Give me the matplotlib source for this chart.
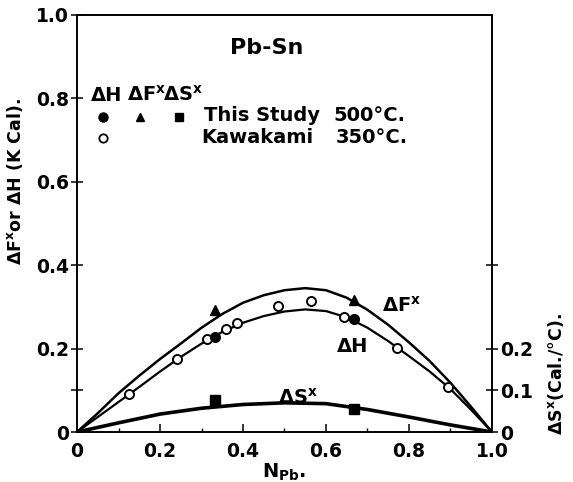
import numpy as np
import matplotlib
matplotlib.use("Agg")
import matplotlib.pyplot as plt

plt.rcParams['font.family'] = 'DejaVu Sans'
plt.rcParams['font.weight'] = 'bold'
plt.rcParams['axes.labelweight'] = 'bold'
plt.rcParams['mathtext.default'] = 'regular'

# smooth curves
x_curve = [0, 0.05, 0.1, 0.15, 0.2, 0.25, 0.3, 0.35, 0.4, 0.45, 0.5,
           0.55, 0.6, 0.65, 0.7, 0.75, 0.8, 0.85, 0.9, 0.95, 1.0]
dF_curve = [0, 0.045, 0.093, 0.135, 0.175, 0.212, 0.25, 0.283, 0.31, 0.328, 0.34,
            0.345, 0.34, 0.322, 0.293, 0.257, 0.215, 0.17, 0.118, 0.06, 0]
dH_curve = [0, 0.036, 0.072, 0.108, 0.145, 0.18, 0.212, 0.24, 0.262, 0.278, 0.289,
            0.294, 0.29, 0.275, 0.25, 0.218, 0.182, 0.145, 0.103, 0.053, 0]
x_dS = [0, 0.1, 0.2, 0.3, 0.4, 0.5, 0.6, 0.7, 0.8, 0.9, 1.0]
dS_curve = [0, 0.022, 0.043, 0.057, 0.066, 0.07, 0.068, 0.054, 0.036, 0.017, 0]

# this study, 500 C
x_study = [0.333, 0.667]
dH_study = [0.229, 0.272]
dF_study = [0.293, 0.317]
dS_study = [0.077, 0.055]

# Kawakami, 350 C
x_kaw = [0.126, 0.240, 0.314, 0.359, 0.385, 0.484, 0.565, 0.643, 0.770, 0.894]
dH_kaw = [0.091, 0.175, 0.222, 0.246, 0.262, 0.302, 0.314, 0.277, 0.202, 0.109]

fig = plt.figure(figsize=(5.73, 4.82), dpi=100)
ax = fig.add_axes([0.1344, 0.1037, 0.7242, 0.8652])

ax.plot(x_curve, dF_curve, color='k', lw=1.8, zorder=2)
ax.plot(x_curve, dH_curve, color='k', lw=1.6, zorder=2)
ax.plot(x_dS, dS_curve, color='k', lw=2.6, zorder=2)

ax.plot(x_kaw, dH_kaw, 'o', ms=6.5, mfc='white', mec='k', mew=1.4, zorder=4)
ax.plot(x_study, dH_study, 'o', ms=7, color='k', zorder=5)
ax.plot(x_study, dF_study, '^', ms=6.5, color='k', zorder=5)
ax.plot(x_study, dS_study, 's', ms=7.5, color='k', zorder=5)

ax.set_xlim(0, 1.0)
ax.set_ylim(0, 1.0)
for s in ax.spines.values():
    s.set_linewidth(1.2)

ax.set_xticks([0, 0.2, 0.4, 0.6, 0.8, 1.0])
ax.set_xticklabels(['0', '0.2', '0.4', '0.6', '0.8', '1.0'])
ax.set_xticks([0.1, 0.3, 0.5, 0.7, 0.9], minor=True)
ax.set_yticks([0, 0.2, 0.4, 0.6, 0.8, 1.0])
ax.set_yticklabels(['0', '0.2', '0.4', '0.6', '0.8', '1.0'])
ax.set_yticks([0.1], minor=True)
ax.tick_params(axis='x', direction='in', length=6, width=1.1, labelsize=13.5, pad=7)
ax.tick_params(axis='x', which='minor', direction='in', length=3, width=1.0)
ax.tick_params(axis='y', direction='inout', length=8, width=1.1, labelsize=13.5, pad=2)
ax.tick_params(axis='y', which='minor', direction='inout', length=8, width=1.1)

ax.set_xlabel('N$_{Pb}$.', fontsize=14, labelpad=1)
ax.set_ylabel('ΔF$^x$or ΔH (K Cal).', fontsize=12.5)
ax.yaxis.set_label_coords(-0.125, 0.6)

# entropy scale on the right
ax2 = ax.twinx()
ax2.set_ylim(0, 1.0)
ax2.set_yticks([0, 0.1, 0.2, 0.4])
ax2.set_yticklabels(['0', '0.1', '0.2', ''])
ax2.tick_params(axis='y', direction='inout', length=8, width=1.1, labelsize=13.5, pad=2)
for s in ax2.spines.values():
    s.set_linewidth(1.2)
ax2.set_ylabel('ΔS$^x$(Cal./°C).', fontsize=12.5, rotation=90, va='center')
ax2.yaxis.set_label_coords(1.155, 0.14)

# title and key
ax.text(0.458, 0.921, 'Pb-Sn', fontsize=16, ha='center', va='center')
ax.text(0.071, 0.808, 'ΔH', fontsize=14, ha='center', va='center')
ax.text(0.168, 0.808, 'ΔF$^x$', fontsize=14, ha='center', va='center')
ax.text(0.255, 0.808, 'ΔS$^x$', fontsize=14, ha='center', va='center')
ax.plot([0.063], [0.756], 'o', ms=6.5, color='k', clip_on=False)
ax.plot([0.152], [0.756], '^', ms=6, color='k', clip_on=False)
ax.plot([0.246], [0.756], 's', ms=6, color='k', clip_on=False)
ax.plot([0.063], [0.704], 'o', ms=6, mfc='white', mec='k', mew=1.3)
ax.text(0.306, 0.760, 'This Study', fontsize=14, ha='left', va='center')
ax.text(0.619, 0.760, '500°C.', fontsize=14, ha='left', va='center')
ax.text(0.300, 0.707, 'Kawakami', fontsize=14, ha='left', va='center')
ax.text(0.624, 0.707, '350°C.', fontsize=14, ha='left', va='center')

# curve labels
ax.text(0.734, 0.302, 'ΔF$^x$', fontsize=14, ha='left', va='center')
ax.text(0.663, 0.206, 'ΔH', fontsize=14, ha='center', va='center')
ax.text(0.484, 0.083, 'ΔS$^x$', fontsize=14, ha='left', va='center')

fig.savefig('out.png', dpi=100)
